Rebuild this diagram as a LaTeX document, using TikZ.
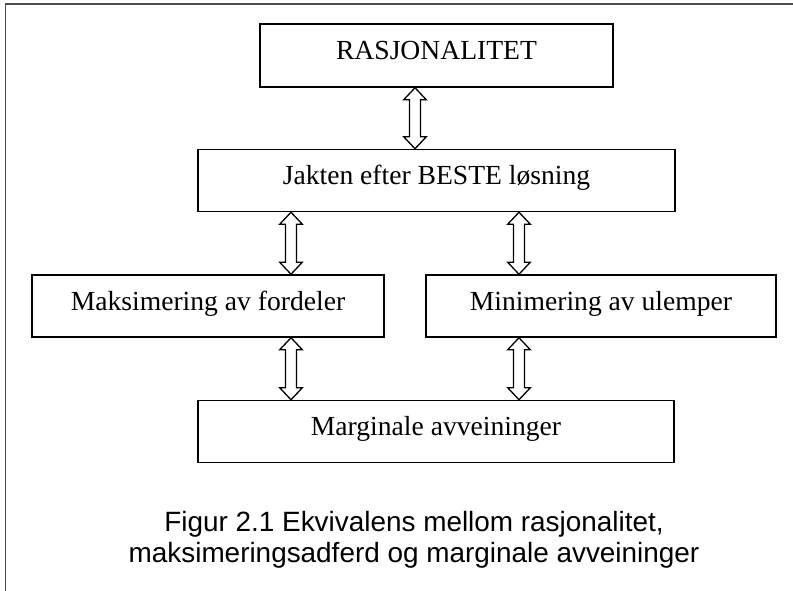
\documentclass[tikz,border=0pt]{standalone}
\usepackage{fontspec}
\usepackage{tikz}
\usetikzlibrary{positioning, calc}

\newfontfamily\boxfont{Liberation Serif}
\newfontfamily\figtextfont{Liberation Sans}

% hollow two-headed arrow from an upper point (#1) to a lower point (#2)
\newcommand{\twoway}[2]{%
  \draw[twowayarrow] let \p1=(#1), \p2=(#2) in
    (\x1,\y1) -- (\x1+11.3pt,\y1-12pt) -- (\x1+5.5pt,\y1-12pt)
    -- (\x1+5.5pt,\y2+12pt) -- (\x1+11.3pt,\y2+12pt) -- (\x1,\y2)
    -- (\x1-11.3pt,\y2+12pt) -- (\x1-5.5pt,\y2+12pt)
    -- (\x1-5.5pt,\y1-12pt) -- (\x1-11.3pt,\y1-12pt) -- cycle;}

\begin{document}
\begin{tikzpicture}[
    x=1pt, y=-1pt,
    conceptbox/.style={draw, line width=1.5pt, inner sep=0pt, minimum height=62pt,
      text height=18pt, text depth=10pt,
      font=\boxfont\fontsize{27.6}{32}\selectfont},
    twowayarrow/.style={draw, fill=white, line width=1.3pt, line join=miter},
    framerule/.style={draw, line width=1.6pt, black!70}
]
\useasboundingbox (0,0) rectangle (793,591);

% --- frame ---
\draw[framerule] (5.5,591) |- (793,4);

% --- Boxes ---
\node[conceptbox, minimum width=353pt, minimum height=63pt] (rasj) at (436.5,55.5) {RASJONALITET};
\node[conceptbox, minimum width=477pt, below=61pt of rasj] (jakten) {Jakten efter BESTE løsning};

\node[conceptbox, minimum width=352pt, below=62pt of jakten, xshift=-228.5pt] (maks) {Maksimering av fordeler};
\node[conceptbox, minimum width=350pt, below=62pt of jakten, xshift=164.5pt] (minim) {Minimering av ulemper};

\node[conceptbox, minimum width=476pt, below=62pt of maks, xshift=228pt] (marg) {Marginale avveininger};

% --- Two-way arrows ---
\twoway{[xshift=-21.5pt]rasj.south}{[xshift=-21.5pt]jakten.north}
\twoway{[xshift=-145.5pt]jakten.south}{[xshift=83pt]maks.north}
\twoway{[xshift=82.5pt]jakten.south}{[xshift=-82pt]minim.north}
\twoway{[xshift=83pt]maks.south}{[xshift=-145pt]marg.north}
\twoway{[xshift=-82pt]minim.south}{[xshift=83pt]marg.north}

% --- Caption ---
\node[align=center, inner sep=0pt, font=\figtextfont\fontsize{27.9}{31}\selectfont] (caption) at (414,540)
  {Figur 2.1 Ekvivalens mellom rasjonalitet,\\maksimeringsadferd og marginale avveininger};

\end{tikzpicture}
\end{document}
